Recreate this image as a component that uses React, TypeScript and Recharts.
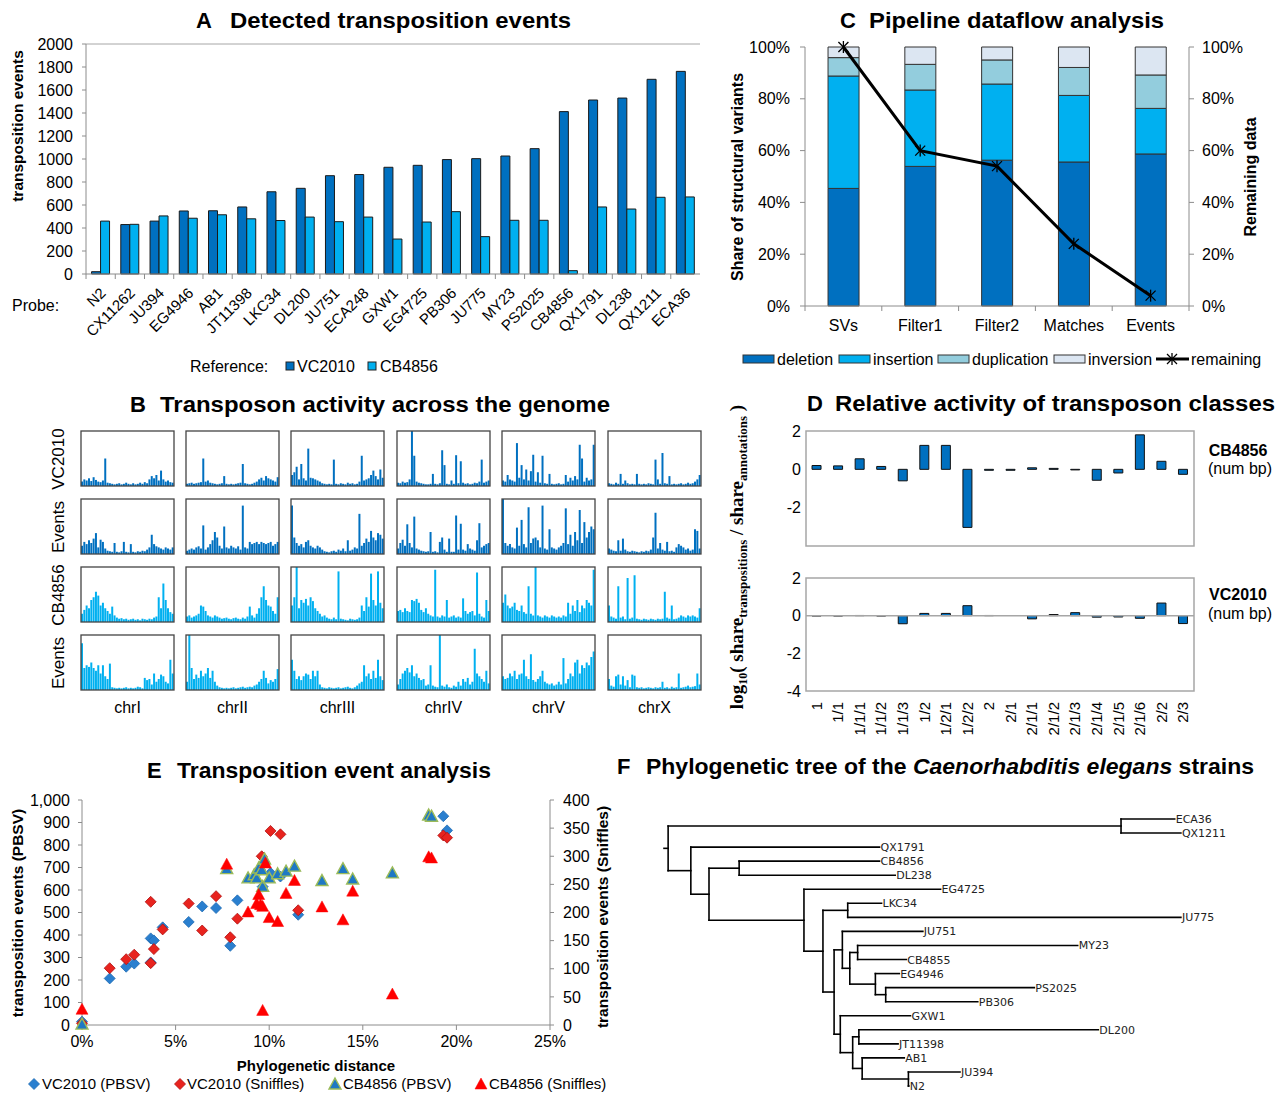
import React from 'react';
import {
  BarChart, Bar, XAxis, YAxis, ComposedChart, Line, ScatterChart, Scatter, ReferenceLine,
} from 'recharts';

const FONT = '"Liberation Sans", Arial, Helvetica, sans-serif';
const DARK = '#0070C0';
const LIGHT = '#00B0F0';
const AXIS = '#8c8c8c';

// ---------- A: detected transposition events ----------
const probes = ['N2', 'CX11262', 'JU394', 'EG4946', 'AB1', 'JT11398', 'LKC34', 'DL200', 'JU751', 'ECA248', 'GXW1',
  'EG4725', 'PB306', 'JU775', 'MY23', 'PS2025', 'CB4856', 'QX1791', 'DL238', 'QX1211', 'ECA36'];
const refVC2010 = [20, 430, 460, 548, 550, 583, 715, 745, 855, 865, 928, 945, 995, 1003, 1026, 1090, 1412, 1513, 1530, 1693, 1762];
const refCB4856 = [460, 432, 505, 485, 515, 480, 465, 495, 455, 495, 304, 452, 542, 325, 467, 467, 29, 583, 565, 667, 670];
const eventTicks = [0, 200, 400, 600, 800, 1000, 1200, 1400, 1600, 1800, 2000];

// ---------- B: transposon activity across the genome ----------
const chromosomes = ['chrI', 'chrII', 'chrIII', 'chrIV', 'chrV', 'chrX'];
const genomeRows = ['VC2010', 'Events', 'CB4856', 'Events'];
const vc2010Bins = [
  [8, 12, 10, 14, 9, 16, 11, 8, 7, 10, 50, 6, 5, 4, 3, 4, 5, 3, 4, 6, 4, 3, 5, 3, 4, 6, 4, 7, 5, 12, 18, 14, 20, 10, 28, 12, 8, 10, 7, 6],
  [4, 5, 6, 4, 5, 6, 7, 50, 8, 10, 6, 5, 4, 3, 4, 5, 18, 4, 3, 4, 3, 4, 5, 6, 40, 5, 4, 3, 4, 6, 8, 12, 15, 10, 18, 14, 12, 10, 8, 16],
  [20, 25, 35, 12, 40, 14, 10, 68, 15, 14, 12, 10, 8, 5, 4, 3, 4, 3, 48, 4, 3, 5, 4, 3, 6, 4, 5, 3, 4, 8, 55, 10, 12, 14, 20, 28, 18, 12, 30, 15],
  [6, 5, 8, 6, 7, 12, 100, 55, 8, 6, 5, 4, 3, 3, 4, 22, 4, 3, 5, 65, 38, 4, 3, 10, 4, 56, 5, 45, 6, 4, 5, 3, 4, 6, 5, 8, 48, 6, 8, 10],
  [10, 8, 20, 12, 10, 8, 78, 15, 38, 12, 30, 10, 27, 57, 8, 25, 6, 55, 5, 4, 22, 4, 3, 4, 5, 3, 4, 20, 8, 15, 10, 18, 12, 75, 50, 8, 15, 10, 12, 75],
  [5, 4, 3, 6, 4, 22, 4, 10, 5, 3, 4, 3, 22, 4, 3, 4, 3, 5, 4, 3, 48, 12, 4, 60, 5, 4, 18, 3, 4, 3, 4, 5, 3, 4, 6, 4, 5, 8, 12, 20],
];
const vc2010EventBins = [
  [15, 22, 18, 25, 20, 28, 38, 12, 26, 22, 10, 6, 5, 4, 20, 4, 3, 5, 22, 4, 3, 18, 4, 3, 5, 4, 6, 5, 8, 12, 35, 18, 14, 12, 10, 8, 12, 10, 8, 12],
  [6, 8, 10, 8, 12, 14, 10, 52, 8, 12, 18, 25, 40, 30, 15, 10, 50, 12, 10, 15, 12, 10, 14, 8, 88, 12, 10, 22, 18, 20, 22, 18, 22, 20, 18, 20, 22, 15, 18, 22],
  [88, 30, 20, 15, 18, 12, 22, 25, 15, 12, 10, 15, 12, 8, 5, 4, 3, 5, 6, 4, 8, 6, 10, 5, 25, 6, 8, 12, 10, 73, 15, 20, 28, 22, 42, 30, 25, 38, 35, 28],
  [10, 20, 26, 15, 54, 20, 12, 68, 10, 8, 6, 5, 4, 5, 40, 4, 5, 3, 22, 30, 8, 4, 28, 4, 4, 70, 8, 55, 8, 6, 18, 10, 8, 6, 25, 56, 12, 15, 18, 20],
  [100, 20, 15, 18, 12, 10, 48, 15, 62, 18, 12, 85, 20, 28, 30, 25, 12, 88, 10, 8, 45, 12, 10, 8, 12, 15, 20, 83, 18, 35, 15, 40, 25, 80, 20, 58, 30, 40, 50, 45],
  [10, 8, 6, 5, 25, 6, 28, 8, 5, 4, 6, 5, 4, 3, 5, 4, 6, 5, 8, 30, 75, 10, 20, 8, 6, 22, 5, 6, 4, 12, 18, 15, 12, 8, 10, 6, 8, 45, 42, 10],
];
const cb4856Bins = [
  [15, 22, 30, 25, 40, 45, 55, 48, 30, 35, 25, 20, 15, 28, 12, 8, 6, 7, 5, 6, 4, 5, 6, 4, 5, 3, 6, 5, 4, 6, 5, 8, 10, 45, 25, 70, 40, 25, 18, 15],
  [10, 12, 8, 10, 12, 15, 30, 28, 20, 12, 10, 8, 12, 10, 8, 6, 7, 8, 6, 5, 7, 8, 6, 5, 8, 6, 10, 28, 12, 8, 15, 25, 45, 65, 40, 30, 28, 20, 15, 45],
  [30, 45, 100, 25, 40, 35, 42, 30, 45, 38, 25, 20, 15, 10, 12, 8, 6, 5, 8, 5, 92, 6, 5, 4, 3, 6, 5, 4, 5, 8, 30, 20, 45, 28, 88, 40, 30, 92, 35, 25],
  [20, 22, 18, 25, 20, 18, 40, 38, 42, 35, 22, 18, 25, 15, 12, 10, 95, 10, 8, 12, 10, 40, 8, 10, 12, 8, 10, 8, 43, 20, 15, 18, 20, 12, 90, 15, 10, 8, 40, 20],
  [35, 50, 30, 25, 28, 35, 22, 20, 30, 18, 15, 65, 15, 12, 100, 12, 10, 8, 12, 10, 8, 12, 10, 8, 10, 8, 12, 10, 35, 15, 30, 20, 40, 18, 30, 25, 40, 35, 30, 95],
  [30, 10, 8, 6, 65, 8, 10, 5, 80, 6, 8, 85, 6, 5, 4, 6, 5, 4, 6, 5, 4, 6, 5, 6, 55, 8, 6, 30, 5, 6, 8, 12, 10, 8, 12, 10, 12, 10, 8, 25],
];
const cb4856EventBins = [
  [85, 40, 45, 42, 50, 40, 35, 45, 30, 45, 25, 20, 48, 5, 4, 3, 4, 3, 4, 5, 3, 4, 3, 4, 6, 5, 3, 22, 18, 20, 10, 30, 15, 20, 28, 25, 15, 12, 55, 30],
  [15, 100, 40, 20, 28, 22, 35, 25, 30, 40, 22, 35, 15, 8, 5, 4, 3, 4, 3, 4, 5, 3, 4, 5, 6, 4, 5, 6, 5, 8, 10, 15, 20, 35, 22, 12, 18, 15, 20, 38],
  [55, 35, 20, 25, 18, 25, 30, 28, 20, 35, 25, 35, 10, 5, 4, 3, 5, 4, 3, 4, 5, 3, 4, 5, 6, 4, 3, 5, 8, 12, 15, 45, 25, 30, 20, 35, 22, 55, 25, 18],
  [10, 20, 30, 35, 40, 32, 45, 25, 30, 22, 18, 20, 8, 10, 45, 8, 6, 5, 100, 8, 6, 10, 5, 4, 8, 6, 15, 8, 20, 15, 22, 10, 15, 75, 30, 25, 20, 15, 35, 12],
  [25, 20, 22, 30, 25, 35, 20, 28, 30, 55, 25, 20, 65, 18, 15, 20, 25, 35, 15, 12, 10, 12, 8, 10, 15, 10, 58, 12, 20, 30, 25, 50, 55, 30, 45, 40, 50, 45, 60, 70],
  [20, 8, 6, 25, 28, 10, 25, 8, 18, 5, 28, 26, 5, 4, 5, 3, 4, 5, 4, 3, 5, 4, 5, 15, 4, 5, 3, 6, 4, 5, 30, 4, 5, 6, 8, 5, 6, 7, 30, 10],
];

// ---------- C: pipeline dataflow ----------
const stages = ['SVs', 'Filter1', 'Filter2', 'Matches', 'Events'];
const deletionShare = [45.4, 53.9, 56.3, 55.6, 58.7];
const insertionShare = [43.4, 29.5, 29.4, 25.7, 17.6];
const duplicationShare = [7.1, 9.9, 9.3, 10.8, 12.9];
const inversionShare = [4.1, 6.7, 5.0, 7.9, 10.8];
const remainingData = [100, 60, 54, 24, 4];
const pctTicks = [0, 20, 40, 60, 80, 100];

// ---------- D: relative activity of transposon classes ----------
const transposonClasses = ['1', '1/1', '1/1/1', '1/1/2', '1/1/3', '1/2', '1/2/1', '1/2/2', '2', '2/1', '2/1/1', '2/1/2',
  '2/1/3', '2/1/4', '2/1/5', '2/1/6', '2/2', '2/3'];
const activityCB4856 = [0.2, 0.18, 0.55, 0.15, -0.6, 1.25, 1.25, -3.03, -0.05, -0.05, 0.08, 0.05, -0.03, -0.57, -0.19, 1.8, 0.42, -0.26];
const activityVC2010 = [-0.02, -0.02, 0.01, -0.02, -0.43, 0.12, 0.12, 0.53, 0.01, 0, -0.17, 0.06, 0.16, -0.08, -0.07, -0.14, 0.67, -0.42];
const logTicks = [-4, -2, 0, 2];

// ---------- E: transposition event analysis ----------
const vcPbsvDist = [0, 1.48, 2.36, 2.79, 3.67, 3.67, 3.84, 4.31, 5.7, 6.42, 7.16, 7.92, 8.3, 9.5, 9.65, 10.07, 10.6, 11.55, 19.3, 19.5];
const vcPbsvEvents = [15, 207, 259, 273, 278, 385, 376, 434, 458, 527, 520, 352, 554, 690, 615, 676, 660, 490, 928, 865];
const vcSnifDist = [0, 1.48, 2.36, 2.79, 3.67, 3.67, 3.84, 4.31, 5.7, 6.42, 7.16, 7.92, 8.3, 9.6, 10.07, 10.6, 11.55, 19.3, 19.5];
const vcSnifEvents = [3, 101, 117, 125, 219, 110, 135, 170, 216, 168, 229, 156, 189, 300, 345, 339, 204, 337, 333];
const cbPbsvDist = [0, 7.73, 8.87, 9.2, 9.33, 9.44, 9.6, 9.65, 9.75, 10.0, 10.45, 10.9, 11.35, 12.82, 13.94, 14.46, 16.58, 18.52, 18.67];
const cbPbsvEvents = [4, 695, 654, 668, 654, 698, 690, 616, 738, 654, 672, 684, 706, 642, 695, 649, 676, 933, 928];
const cbSnifDist = [0, 7.73, 8.87, 9.33, 9.44, 9.54, 9.65, 9.65, 9.8, 10.0, 10.45, 10.9, 11.35, 12.82, 13.94, 14.46, 16.58, 18.52, 18.67];
const cbSnifEvents = [28, 286, 201, 216, 232, 214, 211, 26, 288, 191, 184, 234, 257, 210, 187, 238, 55, 299, 297];
const pbsvTicks = [0, 100, 200, 300, 400, 500, 600, 700, 800, 900, 1000];
const snifTicks = [0, 50, 100, 150, 200, 250, 300, 350, 400];
const distTicks = [0, 5, 10, 15, 20, 25];

// ---------- F: phylogenetic tree ----------
const treeLeaves = ['ECA36', 'QX1211', 'QX1791', 'CB4856', 'DL238', 'EG4725', 'LKC34', 'JU775', 'JU751', 'MY23',
  'CB4855', 'EG4946', 'PS2025', 'PB306', 'GXW1', 'DL200', 'JT11398', 'AB1', 'JU394', 'N2'];
const leafDepths = [123.7, 125.2, 52.2, 52.2, 56, 67, 52.7, 125.2, 62.7, 100.2, 58.7, 57, 89.7, 76, 59.7, 105.2, 56.7, 58.2, 71.7, 59.3];
const cladeNames = ['root', 'nECA', 'n1', 'n2', 'nCB', 'n3', 'n4', 'nLKC', 'n5', 'n6', 'n7', 'nMY', 'nEG', 'nPS', 'n8', 'n9', 'nDL', 'n10', 'nJU'];
const cladeDepths = [1, 110.7, 6.5, 10.9, 18.2, 33.9, 38.5, 44.5, 41.2, 43.2, 45, 46.9, 51.2, 53.7, 42.7, 45.7, 47.2, 48, 59.2];
const cladeChildren = [
  ['nECA', 'n1'], ['ECA36', 'QX1211'], ['QX1791', 'n2'], ['nCB', 'n3'], ['CB4856', 'DL238'], ['EG4725', 'n4'],
  ['nLKC', 'n5'], ['LKC34', 'JU775'], ['n6', 'n8'], ['JU751', 'n7'], ['nMY', 'nEG'], ['MY23', 'CB4855'],
  ['EG4946', 'nPS'], ['PS2025', 'PB306'], ['GXW1', 'n9'], ['nDL', 'n10'], ['DL200', 'JT11398'], ['AB1', 'nJU'], ['JU394', 'N2'],
];

// tree geometry (depth, leaf row) derived from the lists above
const depthOf: Record<string, number> = {};
treeLeaves.forEach((n, i) => { depthOf[n] = leafDepths[i]; });
cladeNames.forEach((n, i) => { depthOf[n] = cladeDepths[i]; });
const rowOf = (n: string): number => {
  const li = treeLeaves.indexOf(n);
  if (li >= 0) return li;
  const kids = cladeChildren[cladeNames.indexOf(n)];
  return (rowOf(kids[0]) + rowOf(kids[kids.length - 1])) / 2;
};
const treeSegments: number[][] = [[0, rowOf('root'), depthOf.root, rowOf('root')]];
cladeNames.forEach((n, i) => {
  const kids = cladeChildren[i];
  treeSegments.push([depthOf[n], rowOf(kids[0]), depthOf[n], rowOf(kids[kids.length - 1])]);
  kids.forEach((k) => treeSegments.push([depthOf[n], rowOf(k), depthOf[k], rowOf(k)]));
});
const leafPoints = treeLeaves.map((n, i) => ({ x: leafDepths[i], y: i, name: n }));

// ---------- tables built for the library ----------
const dataA = probes.map((p, i) => ({ probe: p, vc: refVC2010[i], cb: refCB4856[i] }));
const dataC = stages.map((s, i) => ({
  stage: s, deletion: deletionShare[i], insertion: insertionShare[i], duplication: duplicationShare[i],
  inversion: inversionShare[i], remaining: remainingData[i],
}));
const dataD = transposonClasses.map((c, i) => ({ cls: c, cb: activityCB4856[i], vc: activityVC2010[i] }));
const pairs = (xs: number[], ys: number[]) => xs.map((d, i) => ({ d, v: ys[i] }));
const genomeGrid = [vc2010Bins, vc2010EventBins, cb4856Bins, cb4856EventBins];

// ---------- small render helpers ----------
const ProbeTick = (props: any) => {
  const { x, y, payload } = props;
  const ax = x + 6;
  const ay = y + 20;
  return (
    <g>
      <line x1={x - 14.6} y1={y} x2={x - 14.6} y2={y + 5} stroke={AXIS} />
      <text x={ax} y={ay} transform={`rotate(-45 ${ax} ${ay})`} textAnchor="end" fontSize={15} fill="#000">{payload.value}</text>
    </g>
  );
};

const StageTick = (props: any) => {
  const { x, y, payload, index } = props;
  return (
    <g>
      <line x1={x - 38.4} y1={y} x2={x - 38.4} y2={y + 5} stroke={AXIS} />
      {index === stages.length - 1 && <line x1={x + 38.4} y1={y} x2={x + 38.4} y2={y + 5} stroke={AXIS} />}
      <text x={x} y={y + 25} textAnchor="middle" fontSize={16} fill="#000">{payload.value}</text>
    </g>
  );
};

const ClassTick = (props: any) => {
  const { x, y, payload } = props;
  const ax = x + 5;
  const ay = y + 11;
  return (
    <text x={ax} y={ay} transform={`rotate(-90 ${ax} ${ay})`} textAnchor="end" fontSize={15} fill="#000">{payload.value}</text>
  );
};

const StarDot = (props: any) => {
  const { cx, cy } = props;
  if (cx == null || cy == null) return null;
  return (
    <g stroke="#000" strokeWidth={1.3}>
      <line x1={cx - 5} y1={cy - 5} x2={cx + 5} y2={cy + 5} />
      <line x1={cx - 5} y1={cy + 5} x2={cx + 5} y2={cy - 5} />
      <line x1={cx} y1={cy - 6} x2={cx} y2={cy + 6} />
    </g>
  );
};

const diamondPts = (cx: number, cy: number, r: number) => `${cx},${cy - r} ${cx + r},${cy} ${cx},${cy + r} ${cx - r},${cy}`;
const trianglePts = (cx: number, cy: number) => `${cx},${cy - 6} ${cx + 6},${cy + 5} ${cx - 6},${cy + 5}`;

const BlueDiamond = (p: any) => <polygon points={diamondPts(p.cx, p.cy, 5.5)} fill="#2A7FCF" stroke="#1E6BB3" strokeWidth={0.8} />;
const RedDiamond = (p: any) => <polygon points={diamondPts(p.cx, p.cy, 5.5)} fill="#E8231E" stroke="#B01010" strokeWidth={0.8} />;
const BlueTriangle = (p: any) => <polygon points={trianglePts(p.cx, p.cy)} fill="#1F78C4" stroke="#9BBB59" strokeWidth={1.4} />;
const RedTriangle = (p: any) => <polygon points={trianglePts(p.cx, p.cy)} fill="#FF0000" stroke="#FF0000" strokeWidth={0.5} />;

const LeafLabel = (p: any) => (
  <text x={p.cx + 1} y={p.cy + 4} fontSize={11} fontFamily='"DejaVu Sans", Verdana, sans-serif' fill="#222">{p.payload.name}</text>
);

const tickStyle = { fill: '#000', fontSize: 16 };

const colX = [81, 186, 291, 397, 502, 608];
const rowY = [431, 499, 567, 635];

const Overlay = () => (
  <svg width={1287} height={1094} style={{ position: 'absolute', left: 0, top: 0, pointerEvents: 'none' }} fontFamily={FONT}>
    {/* titles */}
    <g fontWeight="bold" fontSize={22} fill="#000">
      <text x={196} y={28}>A</text>
      <text x={230} y={28} textLength={341} lengthAdjust="spacingAndGlyphs">Detected transposition events</text>
      <text x={130} y={412}>B</text>
      <text x={160} y={412} textLength={450} lengthAdjust="spacingAndGlyphs">Transposon activity across the genome</text>
      <text x={840} y={27.5}>C</text>
      <text x={869} y={27.5} textLength={295} lengthAdjust="spacingAndGlyphs">Pipeline dataflow analysis</text>
      <text x={807} y={411}>D</text>
      <text x={835} y={411} textLength={440} lengthAdjust="spacingAndGlyphs">Relative activity of transposon classes</text>
      <text x={147} y={778}>E</text>
      <text x={177} y={778} textLength={314} lengthAdjust="spacingAndGlyphs">Transposition event analysis</text>
      <text x={617} y={774}>F</text>
      <text x={646} y={774} textLength={608} lengthAdjust="spacingAndGlyphs">
        Phylogenetic tree of the <tspan fontStyle="italic">Caenorhabditis elegans</tspan> strains
      </text>
    </g>

    {/* A labels & legend */}
    <text transform="translate(23,126) rotate(-90)" textAnchor="middle" fontSize={15.5} fontWeight="bold">transposition events</text>
    <text x={12} y={311} fontSize={16}>Probe:</text>
    <text x={190} y={372} fontSize={16}>Reference:</text>
    <rect x={286} y={362} width={8} height={8} fill={DARK} stroke="#222" />
    <text x={297} y={372} fontSize={16}>VC2010</text>
    <rect x={368} y={362} width={8} height={8} fill={LIGHT} stroke="#222" />
    <text x={380} y={372} fontSize={16}>CB4856</text>

    {/* B frames and labels */}
    {rowY.map((ry, r) => colX.map((cx, c) => (
      <rect key={`f${r}-${c}`} x={cx} y={ry} width={93} height={55} fill="none" stroke="#444" strokeWidth={1.3} />
    )))}
    {genomeRows.map((lbl, r) => (
      <text key={`rl${r}`} transform={`translate(64,${rowY[r] + 28}) rotate(-90)`} textAnchor="middle" fontSize={17}>{lbl}</text>
    ))}
    {chromosomes.map((lbl, c) => (
      <text key={`cl${c}`} x={colX[c] + 46.5} y={713} textAnchor="middle" fontSize={16}>{lbl}</text>
    ))}

    {/* C labels & legend */}
    <text transform="translate(743,177) rotate(-90)" textAnchor="middle" fontSize={16} fontWeight="bold">Share of structural variants</text>
    <text transform="translate(1256,177) rotate(-90)" textAnchor="middle" fontSize={16} fontWeight="bold">Remaining data</text>
    <rect x={743} y={355} width={31} height={8} fill={DARK} stroke="#333" />
    <text x={777} y={365} fontSize={16}>deletion</text>
    <rect x={839} y={355} width={31} height={8} fill={LIGHT} stroke="#333" />
    <text x={873} y={365} fontSize={16}>insertion</text>
    <rect x={938} y={355} width={31} height={8} fill="#93CDDD" stroke="#333" />
    <text x={972} y={365} fontSize={16}>duplication</text>
    <rect x={1054} y={355} width={31} height={8} fill="#DCE6F2" stroke="#333" />
    <text x={1088} y={365} fontSize={16}>inversion</text>
    <line x1={1156} y1={359} x2={1189} y2={359} stroke="#000" strokeWidth={3} />
    <StarDot cx={1172} cy={359} />
    <text x={1191} y={365} fontSize={16}>remaining</text>

    {/* D frames and labels */}
    <rect x={806} y={431} width={388} height={115} fill="none" stroke="#a6a6a6" strokeWidth={1.5} />
    <rect x={806} y={578} width={388} height={113} fill="none" stroke="#a6a6a6" strokeWidth={1.5} />
    <text x={1238} y={456} textAnchor="middle" fontSize={16} fontWeight="bold">CB4856</text>
    <text x={1240} y={474} textAnchor="middle" fontSize={16}>(num bp)</text>
    <text x={1238} y={600} textAnchor="middle" fontSize={16} fontWeight="bold">VC2010</text>
    <text x={1240} y={619} textAnchor="middle" fontSize={16}>(num bp)</text>
    <text transform="translate(743,557) rotate(-90)" textAnchor="middle" fontFamily='"Liberation Serif", "DejaVu Serif", serif' fontWeight="bold" fontSize={19}>
      log<tspan fontSize={12} dy={4}>10</tspan><tspan dy={-4}>( share</tspan><tspan fontSize={13} dy={4}>transpositions</tspan>
      <tspan dy={-4}> / share</tspan><tspan fontSize={13} dy={4}>annotations</tspan><tspan dy={-4}> )</tspan>
    </text>

    {/* E labels & legend */}
    <text transform="translate(23,913) rotate(-90)" textAnchor="middle" fontSize={15.5} fontWeight="bold">transposition events  (PBSV)</text>
    <text transform="translate(608,917) rotate(-90)" textAnchor="middle" fontSize={15.5} fontWeight="bold">transposition events (Sniffles)</text>
    <text x={316} y={1071} textAnchor="middle" fontSize={15} fontWeight="bold">Phylogenetic distance</text>
    <BlueDiamond cx={34} cy={1084} />
    <text x={42} y={1089} fontSize={15}>VC2010 (PBSV)</text>
    <RedDiamond cx={180} cy={1084} />
    <text x={187} y={1089} fontSize={15}>VC2010 (Sniffles)</text>
    <BlueTriangle cx={335} cy={1084} />
    <text x={343} y={1089} fontSize={15}>CB4856 (PBSV)</text>
    <RedTriangle cx={481} cy={1084} />
    <text x={489} y={1089} fontSize={15}>CB4856 (Sniffles)</text>
  </svg>
);

export default function App() {
  return (
    <div style={{ position: 'absolute', left: 0, top: 0, width: 1287, height: 1094, background: '#fff', fontFamily: FONT, overflow: 'hidden' }}>
      {/* A */}
      <div style={{ position: 'absolute', left: 0, top: 0 }}>
        <BarChart width={710} height={380} data={dataA} margin={{ top: 44, right: 10, left: 0, bottom: 46 }} barGap={0} barCategoryGap="19%">
          <XAxis dataKey="probe" height={60} interval={0} tick={<ProbeTick />} tickLine={false} tickSize={0} tickMargin={0} axisLine={{ stroke: AXIS }} />
          <YAxis width={86} domain={[0, 2000]} ticks={eventTicks} tick={tickStyle} axisLine={{ stroke: AXIS }} tickLine={{ stroke: AXIS }} tickSize={4} tickMargin={9} interval={0} />
          <ReferenceLine y={2000} stroke="#a6a6a6" />
          <Bar dataKey="vc" fill={DARK} stroke="#1a1a1a" strokeWidth={1} isAnimationActive={false} />
          <Bar dataKey="cb" fill={LIGHT} stroke="#1a1a1a" strokeWidth={1} isAnimationActive={false} />
        </BarChart>
      </div>

      {/* B */}
      {genomeGrid.map((rowBins, r) => rowBins.map((bins, c) => (
        <div key={`b${r}-${c}`} style={{ position: 'absolute', left: colX[c], top: rowY[r] }}>
          <BarChart width={93} height={55} data={bins.map((v, i) => ({ i, v }))} margin={{ top: 0, right: 0, left: 0, bottom: 0 }} barCategoryGap={0}>
            <XAxis dataKey="i" hide />
            <YAxis hide domain={[0, 100]} />
            <Bar dataKey="v" fill={r < 2 ? DARK : LIGHT} isAnimationActive={false} />
          </BarChart>
        </div>
      )))}

      {/* C */}
      <div style={{ position: 'absolute', left: 700, top: 0 }}>
        <ComposedChart width={560} height={380} data={dataC} margin={{ top: 47, right: 0, left: 0, bottom: 44 }} barCategoryGap="30%">
          <XAxis dataKey="stage" height={30} tick={<StageTick />} tickLine={false} tickSize={0} tickMargin={0} axisLine={{ stroke: AXIS }} />
          <YAxis yAxisId="l" width={105} domain={[0, 100]} ticks={pctTicks} tickFormatter={(v: number) => `${v}%`} tick={tickStyle} axisLine={{ stroke: AXIS }} tickLine={{ stroke: AXIS }} tickSize={5} tickMargin={10} />
          <YAxis yAxisId="r" orientation="right" width={71} domain={[0, 100]} ticks={pctTicks} tickFormatter={(v: number) => `${v}%`} tick={tickStyle} axisLine={{ stroke: AXIS }} tickLine={{ stroke: AXIS }} tickSize={5} tickMargin={8} />
          <Bar yAxisId="l" dataKey="deletion" stackId="s" fill={DARK} stroke="#333" isAnimationActive={false} />
          <Bar yAxisId="l" dataKey="insertion" stackId="s" fill={LIGHT} stroke="#333" isAnimationActive={false} />
          <Bar yAxisId="l" dataKey="duplication" stackId="s" fill="#93CDDD" stroke="#333" isAnimationActive={false} />
          <Bar yAxisId="l" dataKey="inversion" stackId="s" fill="#DCE6F2" stroke="#333" isAnimationActive={false} />
          <Line yAxisId="r" dataKey="remaining" stroke="#000" strokeWidth={3} dot={<StarDot />} isAnimationActive={false} />
        </ComposedChart>
      </div>

      {/* D top */}
      <div style={{ position: 'absolute', left: 700, top: 400 }}>
        <BarChart width={500} height={150} data={dataD} margin={{ top: 31, right: 6, left: 0, bottom: 4 }} barCategoryGap="28%">
          <XAxis dataKey="cls" hide />
          <YAxis width={106} domain={[-4, 2]} ticks={logTicks} tick={tickStyle} axisLine={false} tickLine={false} tickSize={0} tickMargin={5} />
          <Bar dataKey="cb" fill={DARK} stroke="#111" isAnimationActive={false} />
        </BarChart>
      </div>

      {/* D bottom */}
      <div style={{ position: 'absolute', left: 700, top: 547 }}>
        <BarChart width={500} height={190} data={dataD} margin={{ top: 31, right: 6, left: 0, bottom: 1 }} barCategoryGap="28%">
          <XAxis dataKey="cls" height={45} interval={0} tick={<ClassTick />} axisLine={false} tickLine={false} tickSize={0} tickMargin={0} />
          <YAxis width={106} domain={[-4, 2]} ticks={logTicks} tick={tickStyle} axisLine={false} tickLine={false} tickSize={0} tickMargin={5} />
          <ReferenceLine y={0} stroke="#a6a6a6" strokeWidth={1.5} />
          <Bar dataKey="vc" fill={DARK} stroke="#111" isAnimationActive={false} />
        </BarChart>
      </div>

      {/* E */}
      <div style={{ position: 'absolute', left: 0, top: 760 }}>
        <ScatterChart width={640} height={300} margin={{ top: 40, right: 30, left: 0, bottom: 5 }}>
          <XAxis type="number" dataKey="d" domain={[0, 25]} ticks={distTicks} tickFormatter={(v: number) => `${v}%`} height={30} tick={tickStyle} axisLine={{ stroke: AXIS }} tickLine={{ stroke: AXIS }} tickSize={5} tickMargin={6} />
          <YAxis yAxisId="pb" type="number" dataKey="v" domain={[0, 1000]} ticks={pbsvTicks} tickFormatter={(v: number) => (v >= 1000 ? '1,000' : `${v}`)} width={82} tick={tickStyle} axisLine={{ stroke: AXIS }} tickLine={{ stroke: AXIS }} tickSize={4} tickMargin={8} interval={0} />
          <YAxis yAxisId="sn" orientation="right" type="number" dataKey="v" domain={[0, 400]} ticks={snifTicks} width={60} tick={tickStyle} axisLine={{ stroke: AXIS }} tickLine={{ stroke: AXIS }} tickSize={4} tickMargin={9} interval={0} />
          <Scatter yAxisId="pb" data={pairs(vcPbsvDist, vcPbsvEvents)} shape={BlueDiamond} isAnimationActive={false} />
          <Scatter yAxisId="sn" data={pairs(vcSnifDist, vcSnifEvents)} shape={RedDiamond} isAnimationActive={false} />
          <Scatter yAxisId="pb" data={pairs(cbPbsvDist, cbPbsvEvents)} shape={BlueTriangle} isAnimationActive={false} />
          <Scatter yAxisId="sn" data={pairs(cbSnifDist, cbSnifEvents)} shape={RedTriangle} isAnimationActive={false} />
        </ScatterChart>
      </div>

      {/* F */}
      <div style={{ position: 'absolute', left: 660, top: 800 }}>
        <ScatterChart width={582} height={294} margin={{ top: 19, right: 0, left: 4, bottom: 8 }}>
          <XAxis type="number" dataKey="x" domain={[0, 140]} hide />
          <YAxis type="number" dataKey="y" domain={[0, 19]} reversed hide />
          {treeSegments.map((s, i) => (
            <ReferenceLine key={`t${i}`} segment={[{ x: s[0], y: s[1] }, { x: s[2], y: s[3] }]} stroke="#000" strokeWidth={1.6} strokeLinecap="square" ifOverflow="visible" />
          ))}
          <Scatter data={leafPoints} shape={LeafLabel} isAnimationActive={false} />
        </ScatterChart>
      </div>

      <Overlay />
    </div>
  );
}
